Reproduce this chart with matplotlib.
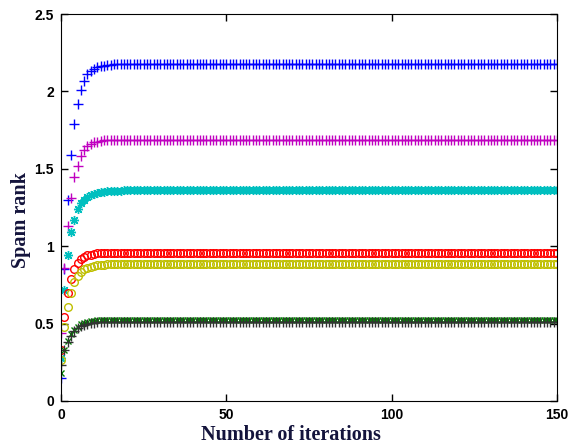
import numpy as np
import matplotlib
matplotlib.use("Agg")
import matplotlib.pyplot as plt

# iteration index 0..150
n_iter = 151
iters = np.arange(n_iter)

blue_start = [0.15, 0.85, 1.30, 1.59, 1.79, 1.92, 2.01, 2.07, 2.11, 2.13, 2.145,
              2.155, 2.162, 2.167, 2.17, 2.173]
blue_final = 2.175
magenta_start = [0.44, 0.86, 1.13, 1.31, 1.45, 1.52, 1.58, 1.62, 1.645, 1.66,
                 1.67, 1.676, 1.68, 1.683]
magenta_final = 1.685
cyan_start = [0.28, 0.72, 0.94, 1.09, 1.17, 1.24, 1.28, 1.30, 1.32, 1.33, 1.34,
              1.345, 1.35, 1.352, 1.354, 1.356, 1.357, 1.358, 1.359]
cyan_final = 1.36
red_start = [0.33, 0.545, 0.70, 0.79, 0.85, 0.89, 0.915, 0.93, 0.94, 0.945,
             0.95, 0.953, 0.955, 0.957]
red_final = 0.958
yellow_start = [0.265, 0.48, 0.61, 0.695, 0.77, 0.81, 0.835, 0.85, 0.86, 0.868,
                0.873, 0.877, 0.879, 0.881]
yellow_final = 0.882
green_start = [0.18, 0.33, 0.39, 0.43, 0.46, 0.48, 0.495, 0.505, 0.51, 0.515,
               0.518, 0.521, 0.523]
green_final = 0.525
black_start = [0.23, 0.33, 0.38, 0.42, 0.45, 0.47, 0.485, 0.493, 0.499, 0.503,
               0.506, 0.508]
black_final = 0.51


def full(start, final):
    return np.array(start + [final] * (n_iter - len(start)))


asterisk = (8, 2, 0)
series = [
    (full(blue_start, blue_final), '#0000ff', '+', 7.5),
    (full(magenta_start, magenta_final), '#c000c0', '+', 7.5),
    (full(cyan_start, cyan_final), '#00bfbf', asterisk, 6.5),
    (full(red_start, red_final), '#ff0000', 'o', 5.5),
    (full(yellow_start, yellow_final), '#bfbf00', 'o', 5.5),
    (full(green_start, green_final), '#007f00', 'x', 5),
    (full(black_start, black_final), '#333333', '+', 7),
]

fig = plt.figure(figsize=(5.68, 4.45), dpi=100)
ax = fig.add_axes([0.1074, 0.099, 0.8732, 0.8695])

for y, c, m, ms in series:
    ax.plot(iters, y, linestyle='none', marker=m, color=c, markersize=ms,
            markerfacecolor='none', markeredgewidth=1.0)

ax.set_xlim(0, 150)
ax.set_ylim(0, 2.5)
ax.set_xticks([0, 50, 100, 150])
ax.set_yticks([0, 0.5, 1, 1.5, 2, 2.5])
ax.set_yticklabels(['0', '0.5', '1', '1.5', '2', '2.5'])
ax.tick_params(direction='in', top=True, right=True, length=5, width=1,
               labelsize=10, pad=5)
for lab in ax.get_xticklabels() + ax.get_yticklabels():
    lab.set_fontweight('bold')
    lab.set_family('Liberation Sans')

ax.set_xlabel('Number of iterations', fontsize=14.5, fontweight='bold',
              family='Liberation Serif', color='#14143c', labelpad=2)
ax.xaxis.set_label_coords(0.464, -0.062)
ax.set_ylabel('Spam rank', fontsize=14.5, fontweight='bold',
              family='Liberation Serif', color='#14143c')
ax.yaxis.set_label_coords(-0.06, 0.468)

fig.savefig('out.png', dpi=100)
